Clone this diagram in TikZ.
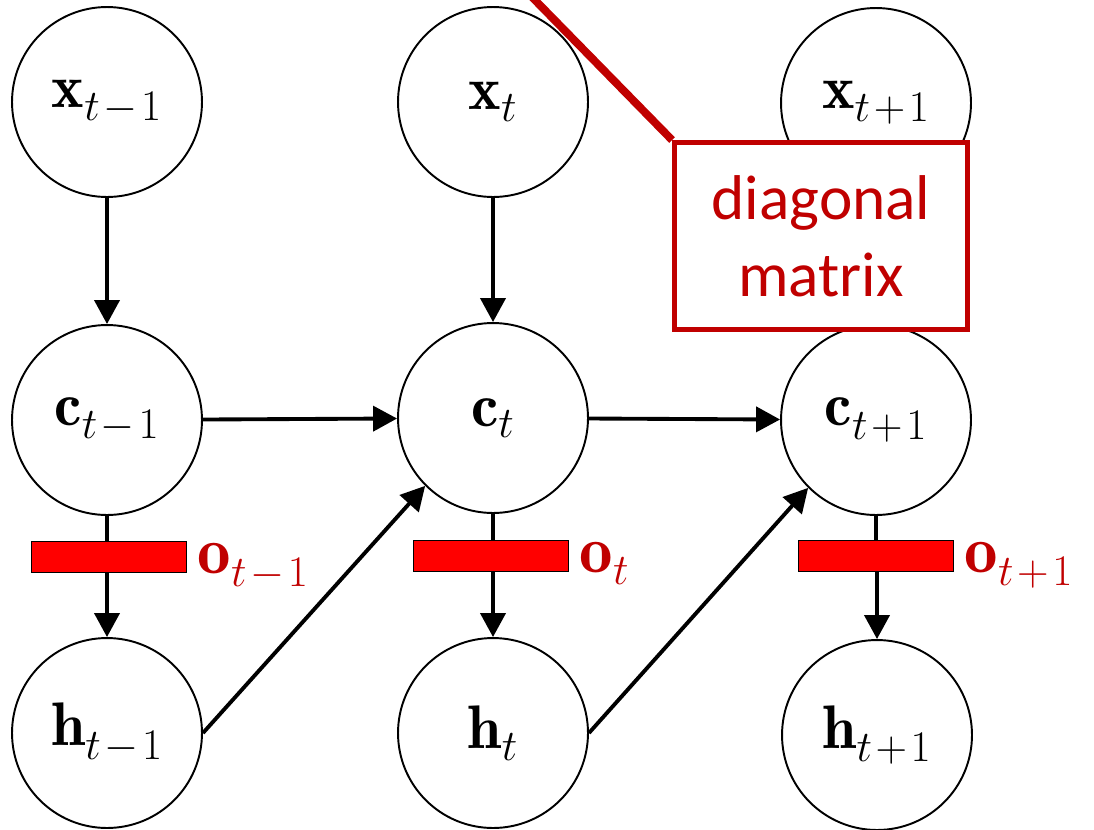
\documentclass[tikz,border=0pt]{standalone}
\usepackage{fontspec}
\newfontfamily\calibri{Carlito}
\usetikzlibrary{arrows.meta}
\definecolor{darkred}{HTML}{C00000}
\DeclareMathSizes{35}{35}{27}{20}
\DeclareMathSizes{38}{38}{27}{20}
\newcommand{\prevt}{t\mskip1.5mu-\mskip1.5mu1}
\newcommand{\nextt}{t\mskip1.5mu+\mskip1.5mu1}
\tikzset{
  unit/.style={circle,draw,line width=1.1pt,minimum size=3.8cm,inner sep=0pt,font=\fontsize{35}{42}\selectfont},
  gate/.style={rectangle,draw,fill=red,line width=1pt,minimum width=3.1cm,minimum height=0.62cm,inner sep=0pt},
  gatelabel/.style={anchor=base west,inner sep=0pt,text=darkred,font=\fontsize{38}{46}\selectfont},
  flow/.style={line width=2.2pt,-{Triangle[length=0.48cm,width=0.5cm]}},
  matrixbox/.style={rectangle,draw=darkred,line width=2.8pt,fill=white,minimum width=5.86cm,minimum height=3.74cm,align=center,text=darkred,font=\calibri\fontsize{36}{44}\selectfont}
}
\begin{document}
\begin{tikzpicture}[x=0.02cm,y=-0.02cm]
\useasboundingbox (0,0) rectangle (1094,829);

\node[unit] (x1) at (107,102) {$\mathbf{x}_{\prevt}$};
\node[unit] (x2) at (493,102) {$\mathbf{x}_{t}$};
\node[unit] (x3) at (876,103) {$\mathbf{x}_{\nextt}$};

\node[unit] (c1) at (107,420) {$\mathbf{c}_{\prevt}$};
\node[unit] (c2) at (493,418) {$\mathbf{c}_{t}$};
\node[unit] (c3) at (876,420) {$\mathbf{c}_{\nextt}$};

\node[unit] (h1) at (107,733) {$\mathbf{h}_{\prevt}$};
\node[unit] (h2) at (493,733) {$\mathbf{h}_{t}$};
\node[unit] (h3) at (877,735) {$\mathbf{h}_{\nextt}$};

\draw[flow] (x1) -- (c1);
\draw[flow] (x2) -- (c2);
\draw[flow] (x3) -- (c3);

\draw[flow] (c1) -- (c2);
\draw[flow] (c2) -- (c3);

\draw[flow] (h1.east) -- (c2.south west);
\draw[flow] (h2.east) -- (c3.south west);

\draw[line width=2.2pt] (c1.south) -- ++(0,40);
\draw[line width=2.2pt] (c2.south) -- ++(0,40);
\draw[line width=2.2pt] (c3.south) -- ++(0,40);

\node[gate] (g1) at (109,557) {};
\node[gate] (g2) at (491,556) {};
\node[gate] (g3) at (876,556) {};

\node[gatelabel] (o1) at ([xshift=0.2cm]g1.south east) {$\mathbf{o}_{\prevt}$};
\node[gatelabel] (o2) at ([xshift=0.2cm]g2.south east) {$\mathbf{o}_{t}$};
\node[gatelabel] (o3) at ([xshift=0.2cm]g3.south east) {$\mathbf{o}_{\nextt}$};

\draw[flow] (g1.south -| h1) -- (h1);
\draw[flow] (g2.south -| h2) -- (h2);
\draw[flow] (g3.south -| h3) -- (h3);

\coordinate (lead) at (530,-5);
\node[matrixbox] (diag) at (821,236) {diagonal\\matrix};
\draw[darkred,line width=4.5pt] (lead) -- (diag.north west);
\end{tikzpicture}
\end{document}
